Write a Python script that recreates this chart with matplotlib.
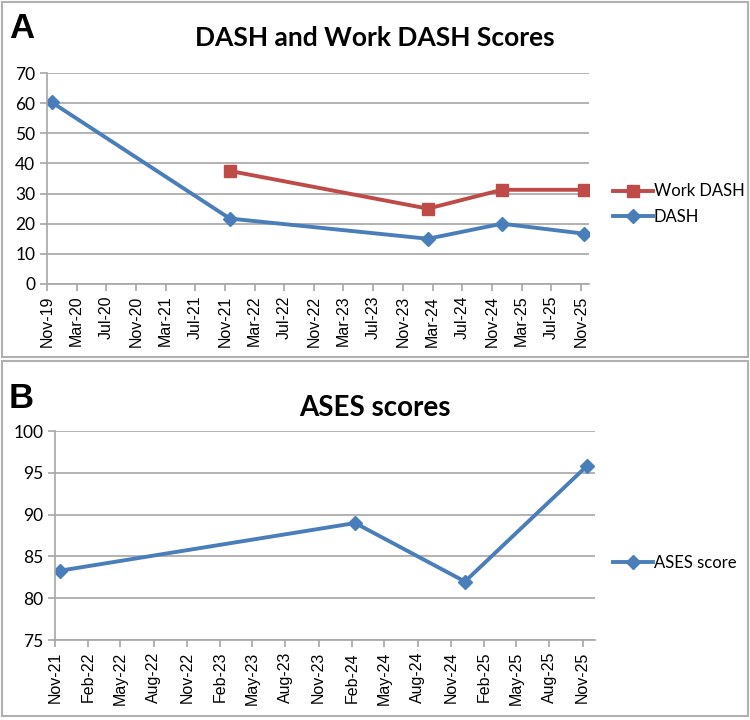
import matplotlib
matplotlib.use("Agg")
import matplotlib.pyplot as plt
from matplotlib.patches import Rectangle
import pandas as pd

# data
dash_dates = ["2019-11-20", "2021-11-20", "2024-02-10", "2024-12-10", "2025-11-10"]
dash_scores = [60.3, 21.7, 15.0, 20.0, 16.7]
work_dates = ["2021-11-20", "2024-02-10", "2024-12-10", "2025-11-10"]
work_scores = [37.5, 25.0, 31.25, 31.25]
ases_dates = ["2021-11-15", "2024-02-10", "2024-12-10", "2025-11-12"]
ases_scores = [83.3, 89.0, 82.0, 95.8]

blue = "#4A7EBB"
red = "#BE4B48"
grid = "#A6A6A6"
narrow = ["Lato", "DejaVu Sans"]
plt.rcParams["font.family"] = narrow

fig = plt.figure(figsize=(7.5, 7.2), dpi=100)

# panel borders
for y0, h in [(0.504, 0.493), (0.005, 0.494)]:
    fig.patches.append(Rectangle((0.003, y0), 0.994, h, transform=fig.transFigure,
                                 fill=False, edgecolor="#B0B0B0", lw=1.5))


def style_axes(ax, ticks):
    for s in ["top", "right"]:
        ax.spines[s].set_visible(False)
    for s in ["left", "bottom"]:
        ax.spines[s].set_color(grid)
        ax.spines[s].set_linewidth(1.2)
    ax.yaxis.grid(True, color=grid, lw=1.2)
    ax.set_axisbelow(True)
    ax.tick_params(axis="both", color=grid, length=5, width=1.2, direction="out")
    ax.tick_params(axis="y", labelsize=12.5)
    ax.set_xticks(ticks, ticks.strftime("%b-%y"))
    plt.setp(ax.get_xticklabels(), rotation=90, fontsize=11.5,
             family=["Liberation Sans", "DejaVu Sans"])


# panel A
ax1 = fig.add_axes([0.0627, 0.6056, 0.722, 0.293])
ax1.plot(pd.to_datetime(work_dates), work_scores, color=red, lw=2.8, marker="s",
         markersize=8.5, label="Work DASH")
ax1.plot(pd.to_datetime(dash_dates), dash_scores, color=blue, lw=2.8, marker="D",
         markersize=7, label="DASH")
ax1.set_ylim(0, 70)
ax1.set_yticks(range(0, 71, 10))
ax1.set_xlim(pd.Timestamp("2019-11-01"), pd.Timestamp("2025-11-30"))
style_axes(ax1, pd.date_range("2019-11-01", "2025-11-01", freq="4MS"))
ax1.legend(loc="center left", bbox_to_anchor=(0.806, 0.7167), bbox_transform=fig.transFigure,
           frameon=False, handlelength=2.4, handletextpad=0.05, labelspacing=0.55,
           borderpad=0, prop={"size": 12})
fig.text(0.5, 0.947, "DASH and Work DASH Scores", ha="center", va="center",
         fontsize=19, fontweight="bold")
fig.text(0.012, 0.96, "A", ha="left", va="center", fontsize=25, fontweight="bold",
         family="Liberation Sans")

# panel B
ax2 = fig.add_axes([0.0733, 0.111, 0.72, 0.2903])
ax2.plot(pd.to_datetime(ases_dates), ases_scores, color=blue, lw=2.8, marker="D",
         markersize=7, label="ASES score")
ax2.set_ylim(75, 100)
ax2.set_yticks(range(75, 101, 5))
ax2.set_xlim(pd.Timestamp("2021-11-01"), pd.Timestamp("2025-12-05"))
style_axes(ax2, pd.date_range("2021-11-01", "2025-11-01", freq="3MS"))
ax2.legend(loc="center left", bbox_to_anchor=(0.806, 0.218), bbox_transform=fig.transFigure,
           frameon=False, handlelength=2.4, handletextpad=0.05, borderpad=0,
           prop={"size": 12})
fig.text(0.5, 0.434, "ASES scores", ha="center", va="center",
         fontsize=20, fontweight="bold")
fig.text(0.012, 0.447, "B", ha="left", va="center", fontsize=25, fontweight="bold",
         family="Liberation Sans")

fig.savefig("out.png", dpi=100)
